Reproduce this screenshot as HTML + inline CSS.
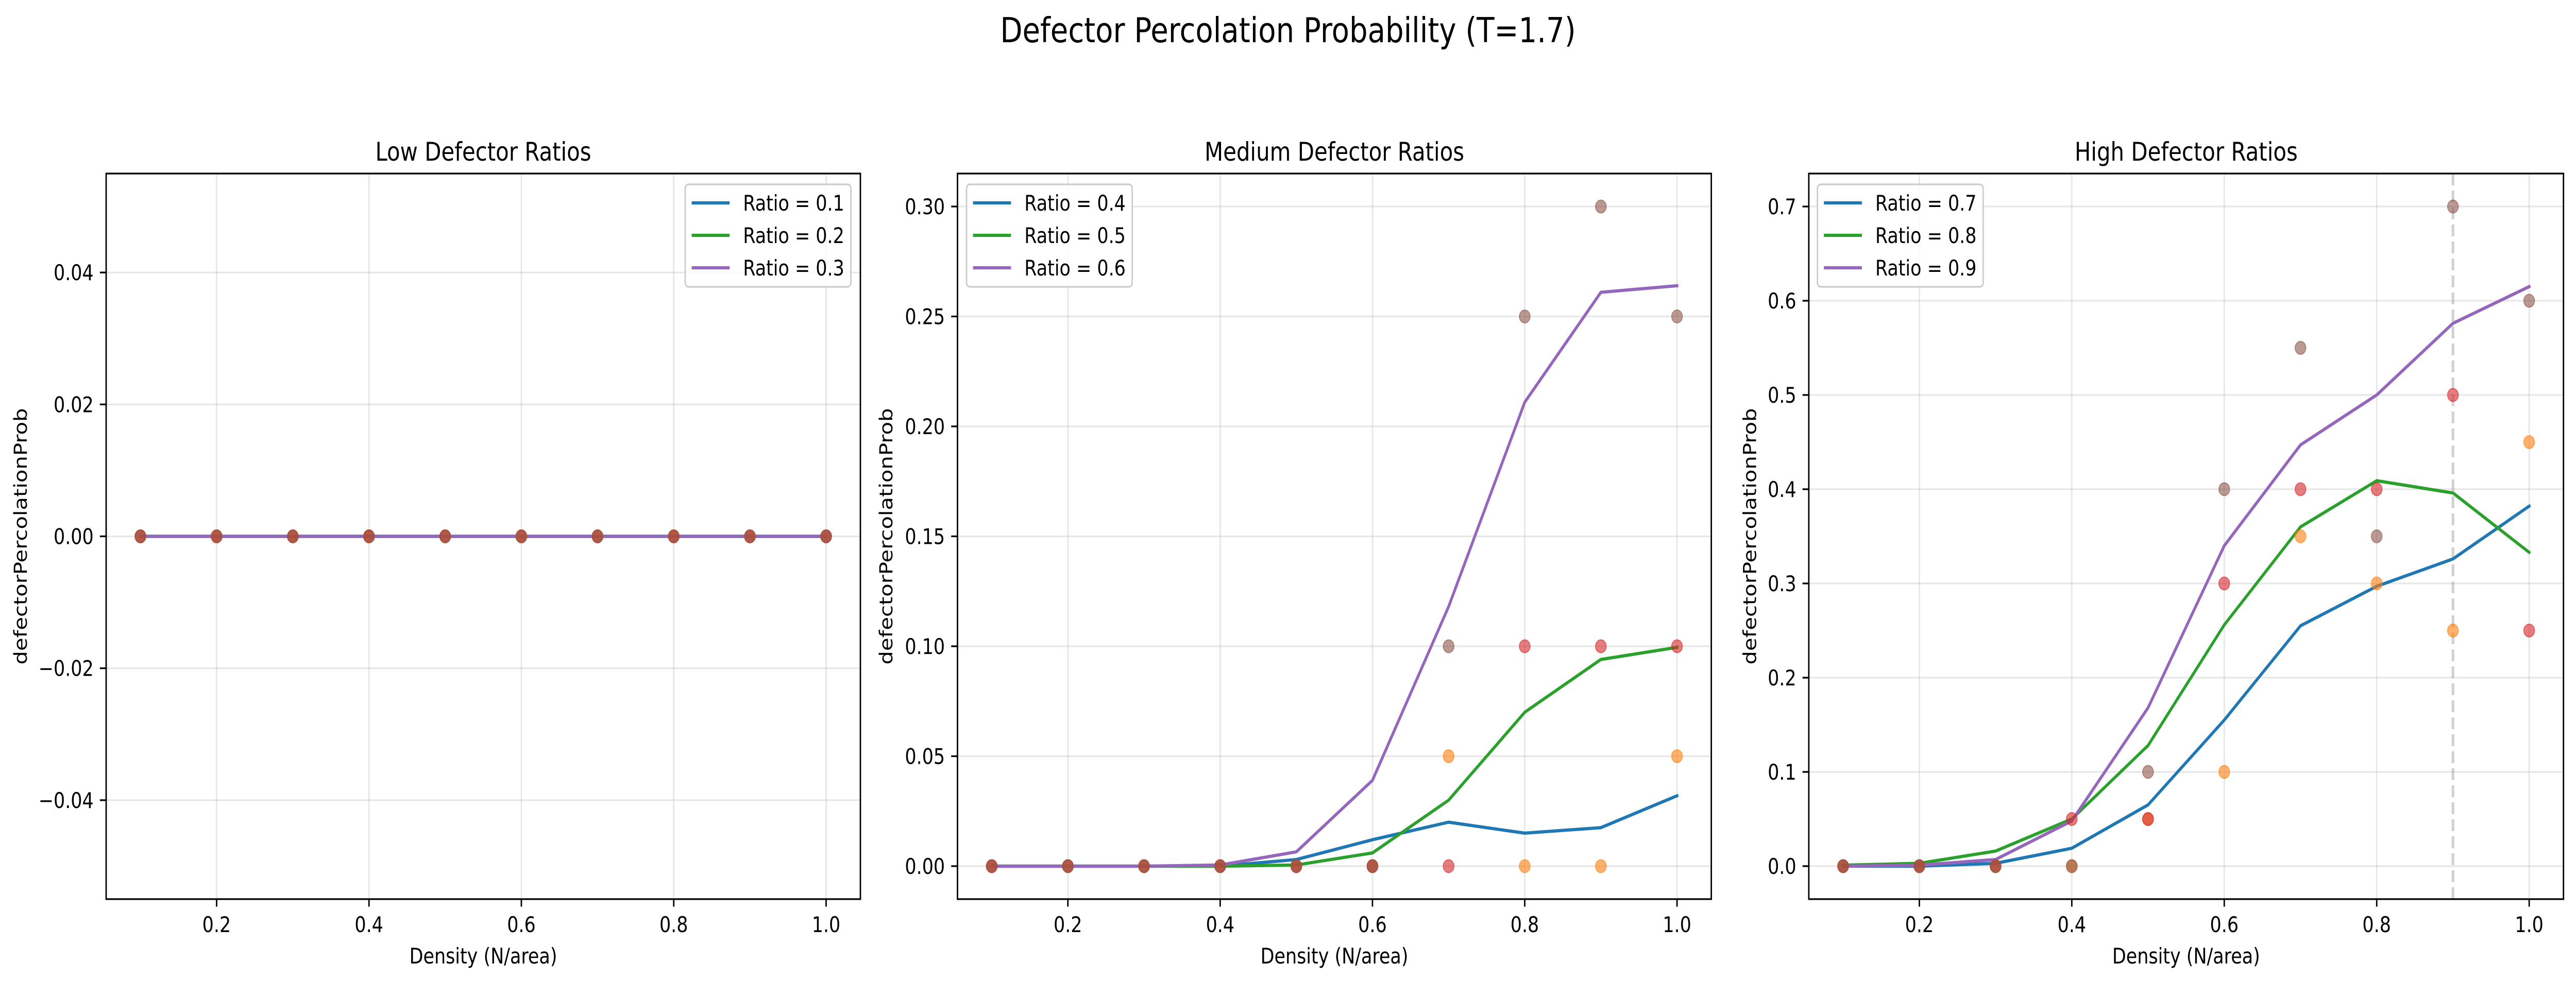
<!DOCTYPE html>
<html><head><meta charset="utf-8">
<style>
html,body{margin:0;padding:0;background:#fff;overflow:hidden;width:100%;height:100%;}
svg{display:block;position:absolute;left:0;top:0;width:100vw;height:100vh;font-family:"DejaVu Sans","Liberation Sans",sans-serif;}
</style></head>
<body>
<svg id="fig" viewBox="0 0 5970 1905" preserveAspectRatio="none" xmlns="http://www.w3.org/2000/svg">
<rect width="5970" height="1905" fill="#fff"/>
<text x="2985" y="82" font-size="67" text-anchor="middle" fill="#000">Defector Percolation Probability (T=1.7)</text>
</svg>
<script>
// ---- data ----
const densities = [0.1,0.2,0.3,0.4,0.5,0.6,0.7,0.8,0.9,1.0];
const lowRatios = ["0.1","0.2","0.3"];
const low01 = [0,0,0,0,0,0,0,0,0,0];
const low02 = [0,0,0,0,0,0,0,0,0,0];
const low03 = [0,0,0,0,0,0,0,0,0,0];
const lowScatA = [0,0,0,0,0,0,0,0,0,0];
const lowScatB = [0,0,0,0,0,0,0,0,0,0];
const lowScatC = [0,0,0,0,0,0,0,0,0,0];
const medRatios = ["0.4","0.5","0.6"];
const med04 = [0,0,0,0,0.003,0.012,0.020,0.015,0.0175,0.032];
const med05 = [0,0,0,0,0.0005,0.006,0.030,0.070,0.094,0.0995];
const med06 = [0,0,0,0.0005,0.0065,0.039,0.118,0.211,0.261,0.264];
const medScatA = [0,0,0,0,0,0,0.05,0,0,0.05];
const medScatB = [0,0,0,0,0,0,0,0.1,0.1,0.1];
const medScatC = [0,0,0,0,0,0,0.1,0.25,0.30,0.25];
const highRatios = ["0.7","0.8","0.9"];
const high07 = [0,0,0.003,0.019,0.065,0.155,0.255,0.297,0.326,0.382];
const high08 = [0.001,0.003,0.016,0.05,0.128,0.256,0.36,0.409,0.396,0.333];
const high09 = [0,0.001,0.007,0.048,0.168,0.34,0.447,0.5,0.576,0.615];
const highScatA = [0,0,0,0,0.05,0.1,0.35,0.3,0.25,0.45];
const highScatB = [0,0,0,0.05,0.05,0.3,0.4,0.4,0.5,0.25];
const highScatC = [0,0,0,0,0.1,0.4,0.55,0.35,0.7,0.6];
const xTicks = [0.2,0.4,0.6,0.8,1.0];
const xTickLabels = ["0.2","0.4","0.6","0.8","1.0"];
const lowYTicks = [-0.04,-0.02,0,0.02,0.04];
const lowYLabels = ["\u22120.04","\u22120.02","0.00","0.02","0.04"];
const medYTicks = [0,0.05,0.1,0.15,0.2,0.25,0.3];
const medYLabels = ["0.00","0.05","0.10","0.15","0.20","0.25","0.30"];
const highYTicks = [0,0.1,0.2,0.3,0.4,0.5,0.6,0.7];
const highYLabels = ["0.0","0.1","0.2","0.3","0.4","0.5","0.6","0.7"];
const highVLine = [0.9];

const NS="http://www.w3.org/2000/svg";
const fig=document.getElementById('fig');
const lineColors=["#1f77b4","#2ca02c","#9467bd"];
const scatColors=["#ff7f0e","#d62728","#8c564b"];
function mk(tag,attrs,parent){const e=document.createElementNS(NS,tag);for(const k in attrs)e.setAttribute(k,attrs[k]);(parent||fig).appendChild(e);return e;}

function panel(cfg){
  const g=mk('g',{});
  
  
  const L=cfg.left,R=cfg.right,T=337,B=1746;
  const xmin=0.055,xmax=1.045;
  const sx=v=>L+(v-xmin)/(xmax-xmin)*(R-L);
  const sy=v=>B-(v-cfg.ymin)/(cfg.ymax-cfg.ymin)*(B-T);
  xTicks.forEach((t,i)=>{
    const l=mk('line',{x1:sx(t),x2:sx(t),y1:T,y2:B,stroke:"#b0b0b0","stroke-opacity":0.3,"stroke-width":3.3},g);
    
    
  });
  cfg.yTicks.forEach((t,i)=>{
    const l=mk('line',{x1:L,x2:R,y1:sy(t),y2:sy(t),stroke:"#b0b0b0","stroke-opacity":0.3,"stroke-width":3.3},g);
    
    
  });
  if(cfg.vline){cfg.vline.forEach(v=>{
    const l=mk('line',{x1:sx(v),x2:sx(v),y1:T,y2:B,stroke:"#999","stroke-opacity":0.45,"stroke-width":6.25,"stroke-dasharray":"23 10"},g);
    
    
  });}
  cfg.series.forEach((s,k)=>{
    const pts=densities.map((d,i)=>sx(d).toFixed(1)+","+sy(s[i]).toFixed(1)).join(" ");
    const p=mk('polyline',{points:pts,fill:"none",stroke:lineColors[k],"stroke-width":6.25,"stroke-linejoin":"round","stroke-linecap":"square"},g);
    
    
  });
  cfg.scat.forEach((s,k)=>{
    densities.forEach((d,i)=>{
      const c=mk('circle',{cx:sx(d),cy:sy(s[i]),r:12.5,fill:scatColors[k],"fill-opacity":0.6,stroke:scatColors[k],"stroke-opacity":0.6,"stroke-width":2},g);
      
      
    });
  });
  const fr=mk('rect',{x:L,y:T,width:R-L,height:B-T,fill:"none",stroke:"#000","stroke-width":3.3},g);
  
  
  xTicks.forEach((t,i)=>{
    mk('line',{x1:sx(t),x2:sx(t),y1:B,y2:B+14.6,stroke:"#000","stroke-width":3.3},g);
    const tx=mk('text',{x:sx(t),y:B+64,"font-size":41.7,"text-anchor":"middle",fill:"#000"},g);
    tx.textContent=xTickLabels[i];
    
    
  });
  cfg.yTicks.forEach((t,i)=>{
    mk('line',{x1:L-14.6,x2:L,y1:sy(t),y2:sy(t),stroke:"#000","stroke-width":3.3},g);
    const tx=mk('text',{x:L-29,y:sy(t)+15,"font-size":41.7,"text-anchor":"end",fill:"#000"},g);
    tx.textContent=cfg.yLabels[i];
    
    
  });
  const ti=mk('text',{x:(L+R)/2,y:312,"font-size":50,"text-anchor":"middle",fill:"#000"},g);
  ti.textContent=cfg.title;
  
  
  const xl=mk('text',{x:(L+R)/2,y:1871,"font-size":41.7,"text-anchor":"middle",fill:"#000"},g);
  xl.textContent="Density (N/area)";
  
  
  const yl=mk('text',{x:0,y:0,"font-size":41.7,"text-anchor":"middle",fill:"#000",transform:`translate(${cfg.ylabX},${(T+B)/2}) rotate(-90)`},g);
  yl.textContent="defectorPercolationProb";
  
  
  const lg=mk('g',{},g);
  
  
  const lx=cfg.legX;
  mk('rect',{x:lx,y:358,width:384,height:199,rx:8,fill:"#fff","fill-opacity":0.8,stroke:"#ccc","stroke-width":3.3},lg);
  cfg.ratios.forEach((r,k)=>{
    const yy=394+k*63;
    mk('line',{x1:lx+15,x2:lx+103,y1:yy,y2:yy,stroke:lineColors[k],"stroke-width":6.25},lg);
    const tx=mk('text',{x:lx+134,y:yy+15,"font-size":41.7,fill:"#000"},lg);
    tx.textContent="Ratio = "+r;
    
    
  });
}
panel({name:'low-ratios-panel',left:246,right:1994,ymin:-0.055,ymax:0.055,yTicks:lowYTicks,yLabels:lowYLabels,series:[low01,low02,low03],scat:[lowScatA,lowScatB,lowScatC],ratios:lowRatios,title:"Low Defector Ratios",ylabX:62,legX:1588});
panel({name:'medium-ratios-panel',left:2219,right:3966,ymin:-0.015,ymax:0.315,yTicks:medYTicks,yLabels:medYLabels,series:[med04,med05,med06],scat:[medScatA,medScatB,medScatC],ratios:medRatios,title:"Medium Defector Ratios",ylabX:2068,legX:2240});
panel({name:'high-ratios-panel',left:4192,right:5941,ymin:-0.035,ymax:0.735,yTicks:highYTicks,yLabels:highYLabels,series:[high07,high08,high09],scat:[highScatA,highScatB,highScatC],ratios:highRatios,title:"High Defector Ratios",ylabX:4070,legX:4212,vline:highVLine});
</script>
</body></html>
